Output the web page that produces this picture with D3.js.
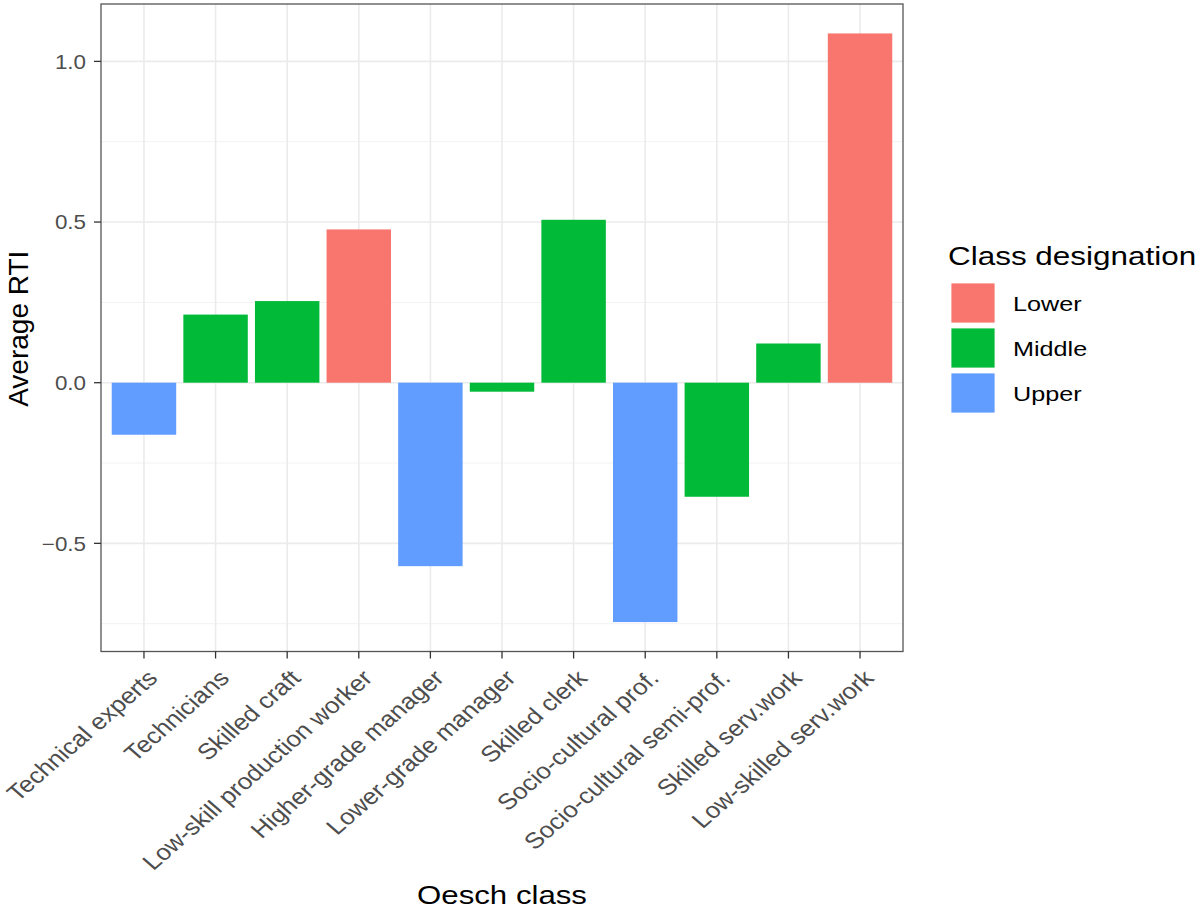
<!DOCTYPE html>
<html><head><meta charset="utf-8">
<script src="https://cdn.jsdelivr.net/npm/d3@7"></script>
<style>body{margin:0;background:#fff}svg{display:block}text{font-family:"Liberation Sans",Arial,Helvetica,sans-serif}</style>
</head><body><svg id="c" width="1196" height="911"></svg>
<script>
const categories = ["Technical experts","Technicians","Skilled craft","Low-skill production worker","Higher-grade manager","Lower-grade manager","Skilled clerk","Socio-cultural prof.","Socio-cultural semi-prof.","Skilled serv.work","Low-skilled serv.work"];
const values = [-0.162, 0.212, 0.254, 0.477, -0.571, -0.028, 0.507, -0.745, -0.355, 0.122, 1.087];
const designation = ["Upper","Middle","Middle","Lower","Upper","Middle","Middle","Upper","Middle","Middle","Lower"];
const legendLevels = ["Lower","Middle","Upper"];
const legendColors = ["#F8766D","#00BA38","#619CFF"];
const yTicks = [-0.5, 0, 0.5, 1.0];
const yMinor = [-0.75, -0.25, 0.25, 0.75];

const SX = 1.12;
const svg = d3.select("#c");
const L = 101, R = 903, T = 4, B = 651.5;
const lo = d3.min(values), hi = d3.max(values), pad = (hi - lo) * 0.05;
const y = d3.scaleLinear().domain([lo - pad, hi + pad]).range([B, T]);
const x = d3.scaleBand().domain(categories).range([L, R]).paddingInner(0.1).paddingOuter(0.15);
const color = d3.scaleOrdinal().domain(legendLevels).range(legendColors);

// grid
const g = svg.append("g");
g.selectAll(".mn").data(yMinor).join("line").attr("x1", L).attr("x2", R)
  .attr("y1", d => y(d)).attr("y2", d => y(d)).attr("stroke", "#F2F2F2").attr("stroke-width", 1);
g.selectAll(".mj").data(yTicks).join("line").attr("x1", L).attr("x2", R)
  .attr("y1", d => y(d)).attr("y2", d => y(d)).attr("stroke", "#EBEBEB").attr("stroke-width", 1.6);
g.selectAll(".vx").data(categories).join("line")
  .attr("x1", d => x(d) + x.bandwidth() / 2).attr("x2", d => x(d) + x.bandwidth() / 2)
  .attr("y1", T).attr("y2", B).attr("stroke", "#EBEBEB").attr("stroke-width", 1.6);

// bars
svg.selectAll(".bar").data(categories).join("rect")
  .attr("x", d => x(d)).attr("width", x.bandwidth())
  .attr("y", (d, i) => y(Math.max(0, values[i])))
  .attr("height", (d, i) => Math.abs(y(values[i]) - y(0)))
  .attr("fill", (d, i) => color(designation[i]));

// border
svg.append("rect").attr("x", L).attr("y", T).attr("width", R - L).attr("height", B - T)
  .attr("fill", "none").attr("stroke", "#555").attr("stroke-width", 1.3);

// y axis
const ya = svg.append("g");
ya.selectAll("line").data(yTicks).join("line").attr("x1", L - 7).attr("x2", L)
  .attr("y1", d => y(d)).attr("y2", d => y(d)).attr("stroke", "#333").attr("stroke-width", 1.3);
ya.selectAll("text").data(yTicks).join("text")
  .attr("transform", d => `translate(${L - 15},${y(d)}) scale(${SX},1)`)
  .attr("text-anchor", "end").attr("dy", "0.36em").attr("font-size", 20).attr("fill", "#4D4D4D")
  .text(d => d3.format(".1f")(d));

// x axis
const xa = svg.append("g");
xa.selectAll("line").data(categories).join("line")
  .attr("x1", d => x(d) + x.bandwidth() / 2).attr("x2", d => x(d) + x.bandwidth() / 2)
  .attr("y1", B).attr("y2", B + 7).attr("stroke", "#333").attr("stroke-width", 1.3);
xa.selectAll("text").data(categories).join("text")
  .attr("transform", d => `translate(${x(d) + x.bandwidth() / 2 + 15},${B + 28}) scale(1.15,1) rotate(-45)`)
  .attr("text-anchor", "end").attr("font-size", 22.5).attr("fill", "#4D4D4D")
  .text(d => d);

// titles
svg.append("text").attr("transform", `translate(${(L + R) / 2},904) scale(1.2,1)`)
  .attr("text-anchor", "middle").attr("font-size", 26).attr("fill", "#000").text("Oesch class");
svg.append("text").attr("transform", `translate(28,${(T + B) / 2 + 1}) rotate(-90)`)
  .attr("text-anchor", "middle").attr("font-size", 28).attr("fill", "#000").text("Average RTI");

// legend
const lg = svg.append("g");
lg.append("text").attr("transform", `translate(948,265) scale(1.21,1)`)
  .attr("font-size", 26).attr("fill", "#000").text("Class designation");
legendLevels.forEach((lv, i) => {
  const ky = 283 + i * 45;
  lg.append("rect").attr("x", 951).attr("y", ky).attr("width", 44).attr("height", 40)
    .attr("fill", color(lv)).attr("stroke", "#fff").attr("stroke-width", 0.8);
  lg.append("text").attr("transform", `translate(1013,${ky + 20}) scale(1.2,1)`)
    .attr("dy", "0.36em").attr("font-size", 21).attr("fill", "#000").text(lv);
});
</script></body></html>
